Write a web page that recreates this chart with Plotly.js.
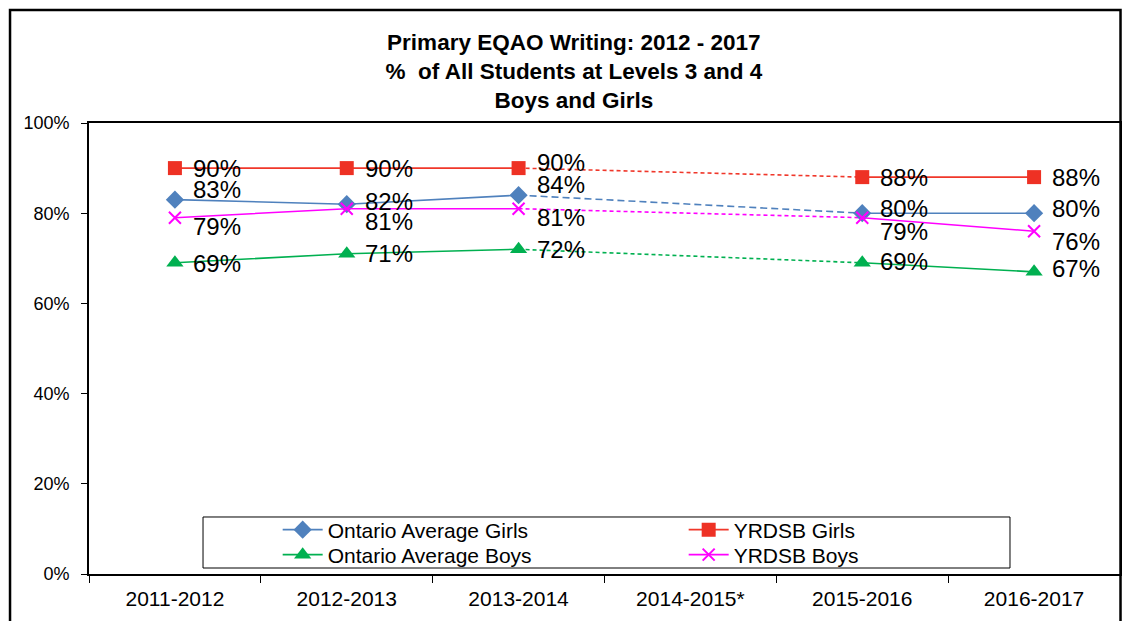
<!DOCTYPE html>
<html>
<head>
<meta charset="utf-8">
<script src="https://cdn.plot.ly/plotly-3.0.1.min.js"></script>
<style>html,body{margin:0;padding:0;background:#fff;}#chart{width:1123px;height:621px;}</style>
</head>
<body>
<div id="chart"></div>
<script>
// ---- data ----
const categories = ['2011-2012', '2012-2013', '2013-2014', '2014-2015*', '2015-2016', '2016-2017'];
const ontarioGirls = [83, 82, 84, null, 80, 80];
const yrdsbGirls = [90, 90, 90, null, 88, 88];
const ontarioBoys = [69, 71, 72, null, 69, 67];
const yrdsbBoys = [79, 81, 81, null, 79, 76];
const yTickVals = [0, 20, 40, 60, 80, 100];
const yTickText = ['0%', '20%', '40%', '60%', '80%', '100%'];

// ---- styles ----
const series = [
  {name: 'Ontario Average Girls', data: ontarioGirls, color: '#4F81BD', mcolor: '#4F81BD', symbol: 'diamond', size: 14, dash: '7px,4px', legend: 'legend', labelShift: [10, 3, 11, 0, 5, 5]},
  {name: 'YRDSB Girls', data: yrdsbGirls, color: '#F0372A', mcolor: '#EE3124', symbol: 'square', size: 14, dash: '4px,3px', legend: 'legend', labelShift: [0, 0, 6, 0, 0, 0]},
  {name: 'Ontario Average Boys', data: ontarioBoys, color: '#00B050', mcolor: '#00B050', symbol: 'triangle-up', size: 15, dash: '4px,3px', legend: 'legend2', labelShift: [-1, 0, 0, 0, 1, 3]},
  {name: 'YRDSB Boys', data: yrdsbBoys, color: '#FF00FF', mcolor: '#FF00FF', symbol: 'x-thin', size: 12, dash: '4px,3px', legend: 'legend2', labelShift: [-9, -13, -9, 0, -14, -10]}
];

const traces = [];
// dashed bridges across the missing year
series.forEach(s => {
  traces.push({
    x: [categories[2], categories[4]],
    y: [s.data[2], s.data[4]],
    type: 'scatter', mode: 'lines',
    line: {color: s.color, width: 1.6, dash: s.dash},
    showlegend: false, hoverinfo: 'skip'
  });
});
series.forEach(s => {
  traces.push({
    x: categories, y: s.data, name: s.name, legend: s.legend,
    type: 'scatter', mode: 'lines+markers', connectgaps: false,
    line: {color: s.color, width: 1.6},
    marker: {color: s.mcolor, symbol: s.symbol, size: s.size,
             line: {color: s.mcolor, width: s.symbol === 'x-thin' ? 2 : 0}}
  });
});

const annotations = [];
series.forEach(s => {
  s.data.forEach((v, i) => {
    if (v === null) return;
    annotations.push({
      x: categories[i], y: v, xref: 'x', yref: 'y',
      text: v + '%', showarrow: false, xanchor: 'left', yanchor: 'middle',
      xshift: 16, yshift: s.labelShift[i],
      font: {family: 'Liberation Sans, Arial, sans-serif', size: 24, color: '#000'}
    });
  });
});

const legendCommon = {
  orientation: 'h', xanchor: 'left', yanchor: 'middle',
  entrywidth: 351, entrywidthmode: 'pixels',
  bgcolor: 'rgba(0,0,0,0)', borderwidth: 0,
  font: {size: 21, color: '#000'}, itemwidth: 40
};

const layout = {
  width: 1123, height: 621,
  margin: {l: 89, r: 3, t: 123, b: 47},
  paper_bgcolor: '#fff', plot_bgcolor: '#fff',
  font: {family: 'Liberation Sans, Arial, sans-serif', color: '#000'},
  title: {
    text: '<b>Primary EQAO Writing: 2012 - 2017<br>%  of All Students at Levels 3 and 4<br>Boys and Girls</b>',
    font: {size: 22.5, color: '#000'},
    xref: 'container', yref: 'container', x: 0.511, xanchor: 'center', y: 0.92, yanchor: 'top'
  },
  xaxis: {
    type: 'category', categoryorder: 'array', categoryarray: categories,
    range: [-0.5, 5.5], tickson: 'boundaries',
    ticks: 'outside', ticklen: 7, tickcolor: '#000',
    showline: true, linecolor: '#000', linewidth: 1.8, mirror: true,
    showgrid: false, zeroline: false, ticklabelstandoff: 5,
    tickfont: {size: 21, color: '#000'}
  },
  yaxis: {
    range: [0, 100], tickvals: yTickVals, ticktext: yTickText,
    ticks: 'outside', ticklen: 6, tickcolor: '#000',
    showline: true, linecolor: '#000', linewidth: 1.8, mirror: true,
    showgrid: false, zeroline: false, ticklabelstandoff: 8,
    tickfont: {size: 18, color: '#000'}
  },
  showlegend: true,
  legend: Object.assign({}, legendCommon, {x: 0.183, y: (574 - 530) / 451}),
  legend2: Object.assign({}, legendCommon, {x: 0.183, y: (574 - 555) / 451}),
  shapes: [
    {type: 'rect', xref: 'paper', yref: 'paper', x0: 0.1106, x1: 0.8933, y0: 0.0133, y1: 0.1264,
     line: {color: '#000', width: 1}, fillcolor: '#fff', layer: 'below'},
    {type: 'rect', xref: 'paper', yref: 'paper', x0: -0.0766, x1: 1.0005, y0: -0.2, y1: 1.2506,
     line: {color: '#000', width: 2.5}, fillcolor: 'rgba(0,0,0,0)'}
  ],
  annotations: annotations,
  hovermode: false
};

Plotly.newPlot('chart', traces, layout, {displayModeBar: false, staticPlot: true});
</script>
</body>
</html>
